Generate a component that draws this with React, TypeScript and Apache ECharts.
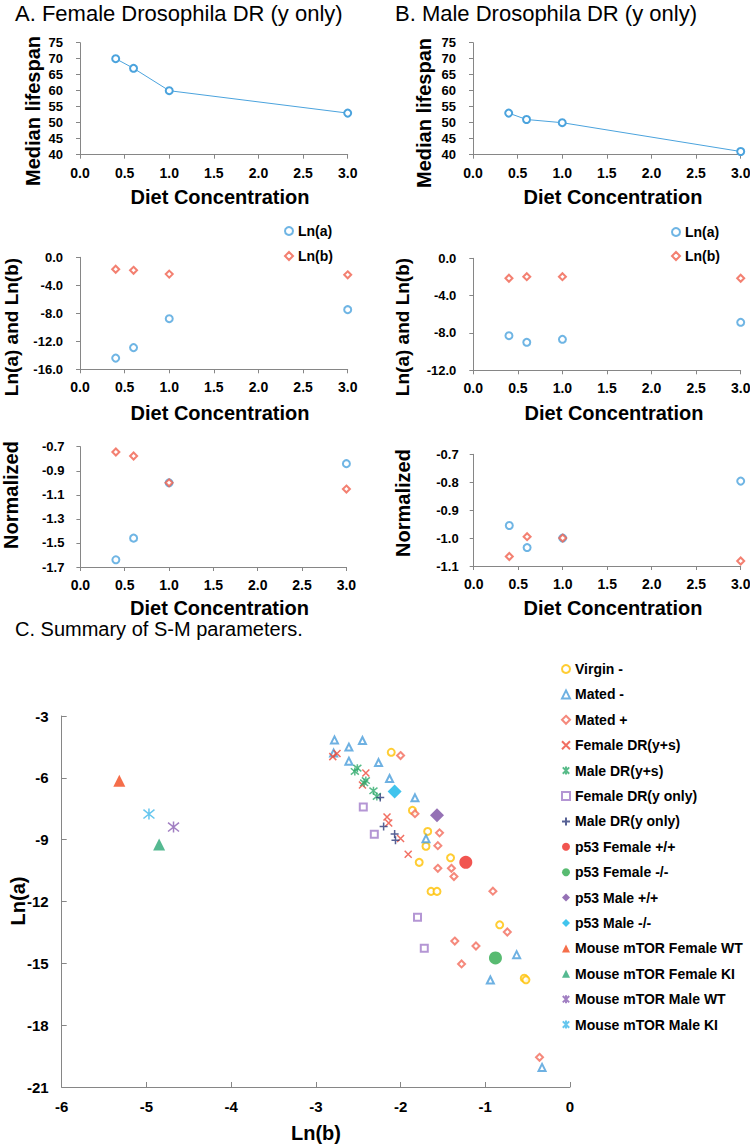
import React, { useEffect, useRef } from "react";
import * as echarts from "echarts";

// ---------- Data ----------
const dietConc = [0.4, 0.6, 1.0, 3.0];
const femaleMedian = [70, 67, 60, 53];
const maleMedian = [53, 51, 50, 41];
const femaleLnA = [-14.4, -12.9, -8.77, -7.48];
const femaleLnB = [-1.71, -1.86, -2.4, -2.5];
const maleLnA = [-8.29, -9.0, -8.68, -6.86];
const maleLnB = [-2.14, -1.97, -1.97, -2.14];
const femaleNormA = [-1.64, -1.46, -1.0, -0.841];
const femaleNormB = [-0.744, -0.777, -1.0, -1.052];
const maleNormA = [-0.955, -1.034, -1.0, -0.796];
const maleNormB = [-1.066, -0.995, -1.0, -1.082];

const normATicks = [-1.7, -1.5, -1.3, -1.1, -0.9, -0.7];
const normBTicks = [-1.1, -1.0, -0.9, -0.8, -0.7];

// Summary of S-M parameters: [Ln(b), Ln(a)]
const virginMinus = [[-2.11, -4.76], [-1.86, -7.58], [-1.68, -8.6], [-1.7, -9.32], [-1.78, -10.1], [-1.41, -9.88], [-1.64, -11.51], [-1.57, -11.51], [-0.83, -13.13], [-0.54, -15.72], [-0.52, -15.8]];
const matedMinus = [[-2.78, -4.16], [-2.61, -4.51], [-2.45, -4.19], [-2.79, -4.8], [-2.61, -5.19], [-2.26, -5.26], [-2.13, -6.03], [-1.83, -6.97], [-1.7, -8.95], [-0.63, -14.58], [-0.94, -15.81], [-0.33, -20.05]];
const matedPlus = [[-2.0, -4.92], [-1.83, -7.74], [-1.54, -8.67], [-1.56, -9.29], [-1.56, -10.39], [-1.4, -10.39], [-1.37, -10.79], [-0.91, -11.5], [-0.74, -13.48], [-1.36, -13.92], [-1.11, -14.16], [-1.28, -15.03], [-0.36, -19.56]];
const femaleDRys = [[-2.8, -4.97], [-2.75, -4.82], [-2.41, -5.77], [-2.45, -6.35], [-2.16, -7.9], [-2.14, -8.19], [-2.0, -8.94], [-1.91, -9.71]];
const maleDRys = [[-2.54, -5.69], [-2.51, -5.53], [-2.41, -6.13], [-2.43, -6.24], [-2.32, -6.63], [-2.28, -6.9]];
const femaleDRy = [[-2.44, -7.42], [-2.31, -8.74], [-1.8, -12.77], [-1.72, -14.27]];
const maleDRy = [[-2.24, -6.95], [-2.2, -8.36], [-2.07, -8.72], [-2.06, -9.03]];
const p53FemaleWT = [[-1.23, -10.1]];
const p53FemaleKO = [[-0.88, -14.74]];
const p53MaleWT = [[-1.57, -7.82]];
const p53MaleKO = [[-2.07, -6.66]];
const mouseFemaleWT = [[-5.32, -6.14]];
const mouseFemaleKI = [[-4.85, -9.24]];
const mouseMaleWT = [[-4.68, -8.39]];
const mouseMaleKI = [[-4.97, -7.76]];

// ---------- Styles ----------
const FONT = "'Liberation Sans', Arial, Helvetica, sans-serif";
const AXIS = "#868686";
const BLUE = "#4BA3DD";
const RED = "#F0604D";

const X_PATH = "path://M0 0L10 10M10 0L0 10";
const PLUS_PATH = "path://M5 0L5 10M0 5L10 5";
const AST_PATH = "path://M1 1L9 9M9 1L1 9M5 0L5 10";

const pairs = (xs: number[], ys: number[]) => xs.map((x, i) => [x, ys[i]]);

function smallX(gridIndex: number) {
  return {
    type: "value", gridIndex, min: 0, max: 3, interval: 0.5,
    axisLine: { onZero: false, lineStyle: { color: AXIS, width: 1 } },
    axisTick: { length: 4, lineStyle: { color: AXIS } },
    splitLine: { show: false },
    axisLabel: {
      formatter: (v: number) => v.toFixed(1),
      fontWeight: "bold", fontSize: 14, color: "#000",
      fontFamily: FONT, margin: 11,
    },
  };
}

function smallY(gridIndex: number, min: number, max: number, interval: number, dec: number, margin = 17, custom?: number[]) {
  const ax: any = {
    type: "value", gridIndex, min, max, interval,
    axisLine: { show: true, onZero: false, lineStyle: { color: AXIS, width: 1 } },
    axisTick: { show: true, length: 4, lineStyle: { color: AXIS } },
    splitLine: { show: false },
    axisLabel: {
      formatter: (v: number) => v.toFixed(dec),
      fontWeight: "bold", fontSize: 13, color: "#000",
      fontFamily: FONT, margin,
    },
  };
  if (custom) {
    ax.axisLabel.customValues = custom;
    ax.axisTick.customValues = custom;
  }
  return ax;
}

const emptyStyle = (c: string) => ({ color: c, borderColor: c, borderWidth: 1.5 });

const bigGroups = [
  { name: "Virgin -", data: virginMinus, symbol: "emptyCircle", size: 7, color: "#FFC000", kind: "empty" },
  { name: "Mated -", data: matedMinus, symbol: "emptyTriangle", size: 7, color: "#4A9DDB", kind: "empty" },
  { name: "Mated +", data: matedPlus, symbol: "emptyDiamond", size: 7, color: "#F26B5B", kind: "empty" },
  { name: "Female DR(y+s)", data: femaleDRys, symbol: X_PATH, size: 7, color: "#EE4B3B", kind: "line" },
  { name: "Male DR(y+s)", data: maleDRys, symbol: AST_PATH, size: 8, color: "#2EAA6B", kind: "line" },
  { name: "Female DR(y only)", data: femaleDRy, symbol: "emptyRect", size: 7, color: "#A17CC9", kind: "empty" },
  { name: "Male DR(y only)", data: maleDRy, symbol: PLUS_PATH, size: 8, color: "#2D3A7A", kind: "line" },
  { name: "p53 Female +/+", data: p53FemaleWT, symbol: "circle", size: 13, color: "#EE2A24", kind: "fill" },
  { name: "p53 Female -/-", data: p53FemaleKO, symbol: "circle", size: 13, color: "#2EAA4E", kind: "fill" },
  { name: "p53 Male +/+", data: p53MaleWT, symbol: "diamond", size: 14, color: "#7A4EA3", kind: "fill" },
  { name: "p53 Male -/-", data: p53MaleKO, symbol: "diamond", size: 14, color: "#12B5E8", kind: "fill" },
  { name: "Mouse mTOR Female WT", data: mouseFemaleWT, symbol: "triangle", size: 12, color: "#F24A1D", kind: "fill" },
  { name: "Mouse mTOR Female KI", data: mouseFemaleKI, symbol: "triangle", size: 12, color: "#2AA876", kind: "fill" },
  { name: "Mouse mTOR Male WT", data: mouseMaleWT, symbol: AST_PATH, size: 11, color: "#8A5FB3", kind: "line" },
  { name: "Mouse mTOR Male KI", data: mouseMaleKI, symbol: AST_PATH, size: 11, color: "#40B8EA", kind: "line" },
];

function txt(x: number, y: number, text: string, size: number, weight: string, opts: any = {}) {
  return {
    type: "text", x, y, rotation: opts.rotation || 0,
    style: {
      text, fontSize: size, fontWeight: weight, fontFamily: FONT, fill: "#000",
      align: opts.align || "center", verticalAlign: "middle",
    },
  };
}

function buildOption() {
  const grid = [
    { left: 80, top: 42.7, width: 267.7, height: 112 },
    { left: 473, top: 42.7, width: 267.7, height: 112 },
    { left: 80, top: 257.3, width: 267.7, height: 112 },
    { left: 473.3, top: 258.3, width: 267.4, height: 112 },
    { left: 80.4, top: 446.7, width: 266, height: 120.3 },
    { left: 473.7, top: 454.3, width: 267, height: 111.7 },
    { left: 61.7, top: 716, width: 508.3, height: 371 },
  ].map((g) => ({ ...g, containLabel: false, outerBoundsMode: "none" }));

  const xAxis: any[] = [
    smallX(0), smallX(1), smallX(2), smallX(3), smallX(4), smallX(5),
    {
      type: "value", gridIndex: 6, min: -6, max: 0, interval: 1,
      axisLine: { onZero: false, lineStyle: { color: AXIS } },
      axisTick: { inside: true, length: 5, lineStyle: { color: AXIS } },
      splitLine: { show: false },
      axisLabel: { fontWeight: "bold", fontSize: 15, color: "#000", fontFamily: FONT, margin: 12 },
    },
  ];
  const yAxis: any[] = [
    smallY(0, 40, 75, 5, 0),
    smallY(1, 40, 75, 5, 0),
    smallY(2, -16, 0, 4, 1),
    smallY(3, -12, 0, 4, 1),
    smallY(4, -1.7, -0.7, 0.1, 1, 16, normATicks),
    smallY(5, -1.1, -0.7, 0.1, 1, 15, normBTicks),
    {
      type: "value", gridIndex: 6, min: -21, max: -3, interval: 3,
      axisLine: { show: true, onZero: false, lineStyle: { color: AXIS } },
      axisTick: { show: true, inside: true, length: 5, lineStyle: { color: AXIS } },
      splitLine: { show: false },
      axisLabel: { fontWeight: "bold", fontSize: 15, color: "#000", fontFamily: FONT, margin: 13 },
    },
  ];

  const lineSeries = (idx: number, ys: number[]) => ({
    type: "line", name: "Median lifespan " + idx, xAxisIndex: idx, yAxisIndex: idx,
    data: pairs(dietConc, ys), symbol: "emptyCircle", symbolSize: 7,
    lineStyle: { color: BLUE, width: 1 }, itemStyle: emptyStyle(BLUE),
  });
  const sc = (idx: number, name: string, ys: number[], isA: boolean) => ({
    type: "scatter", name, xAxisIndex: idx, yAxisIndex: idx,
    data: pairs(dietConc, ys), symbol: isA ? "emptyCircle" : "emptyDiamond",
    symbolSize: 7, itemStyle: emptyStyle(isA ? BLUE : RED),
  });

  const series: any[] = [
    lineSeries(0, femaleMedian),
    lineSeries(1, maleMedian),
    sc(2, "Ln(a)", femaleLnA, true),
    sc(2, "Ln(b)", femaleLnB, false),
    sc(3, "Ln(a)", maleLnA, true),
    sc(3, "Ln(b)", maleLnB, false),
    sc(4, "Normalized Ln(a) F", femaleNormA, true),
    sc(4, "Normalized Ln(b) F", femaleNormB, false),
    sc(5, "Normalized Ln(a) M", maleNormA, true),
    sc(5, "Normalized Ln(b) M", maleNormB, false),
    ...bigGroups.map((g) => ({
      type: "scatter", name: g.name, xAxisIndex: 6, yAxisIndex: 6,
      data: g.data, symbol: g.symbol, symbolSize: g.size,
      itemStyle: g.kind === "fill" ? { color: g.color } : emptyStyle(g.color),
    })),
  ];

  const legendText = { fontWeight: "bold", fontSize: 14, color: "#000", fontFamily: FONT };
  const legend = [
    { data: ["Ln(a)", "Ln(b)"], orient: "vertical", left: 284, top: 224, itemWidth: 8, itemHeight: 8, itemGap: 11, selectedMode: false, textStyle: legendText, padding: 0 },
    { data: ["Ln(a)", "Ln(b)"], orient: "vertical", left: 671, top: 225, itemWidth: 8, itemHeight: 8, itemGap: 10, selectedMode: false, textStyle: legendText, padding: 0 },
    { data: bigGroups.map((g) => g.name), orient: "vertical", left: 561, top: 662, itemWidth: 8, itemHeight: 8, itemGap: 11.4, selectedMode: false, textStyle: legendText, padding: 0 },
  ];

  const graphic = [
    txt(15, 13, "A. Female Drosophila DR (y only)", 22, "normal", { align: "left" }),
    txt(395, 13, "B. Male Drosophila DR (y only)", 22, "normal", { align: "left" }),
    txt(33, 111, "Median lifespan", 20, "bold", { rotation: Math.PI / 2 }),
    txt(424, 113, "Median lifespan", 20, "bold", { rotation: Math.PI / 2 }),
    txt(220, 197, "Diet Concentration", 20, "bold"),
    txt(613, 197, "Diet Concentration", 20, "bold"),
    txt(11, 327, "Ln(a) and Ln(b)", 19, "bold", { rotation: Math.PI / 2 }),
    txt(402, 327, "Ln(a) and Ln(b)", 19, "bold", { rotation: Math.PI / 2 }),
    txt(220, 412.7, "Diet Concentration", 20, "bold"),
    txt(614, 412.7, "Diet Concentration", 20, "bold"),
    txt(11, 495, "Normalized", 20, "bold", { rotation: Math.PI / 2 }),
    txt(403, 503, "Normalized", 20, "bold", { rotation: Math.PI / 2 }),
    txt(219.5, 607.7, "Diet Concentration", 20, "bold"),
    txt(613, 608.3, "Diet Concentration", 20, "bold"),
    txt(15, 629, "C. Summary of S-M parameters.", 20, "normal", { align: "left" }),
    txt(18, 901, "Ln(a)", 20, "bold", { rotation: Math.PI / 2 }),
    txt(316, 1133, "Ln(b)", 20, "bold"),
  ];

  return {
    animation: false,
    backgroundColor: "#fff",
    textStyle: { fontFamily: FONT },
    grid, xAxis, yAxis, series, legend, graphic,
    tooltip: { show: false },
  };
}

export default function App() {
  const ref = useRef<HTMLDivElement>(null);
  useEffect(() => {
    document.body.style.margin = "0";
    const chart = echarts.init(ref.current!, null, { renderer: "svg" });
    chart.setOption(buildOption() as any);
    return () => chart.dispose();
  }, []);
  return <div ref={ref} style={{ position: "absolute", left: 0, top: 0, width: 750, height: 1147, background: "#fff" }} />;
}
